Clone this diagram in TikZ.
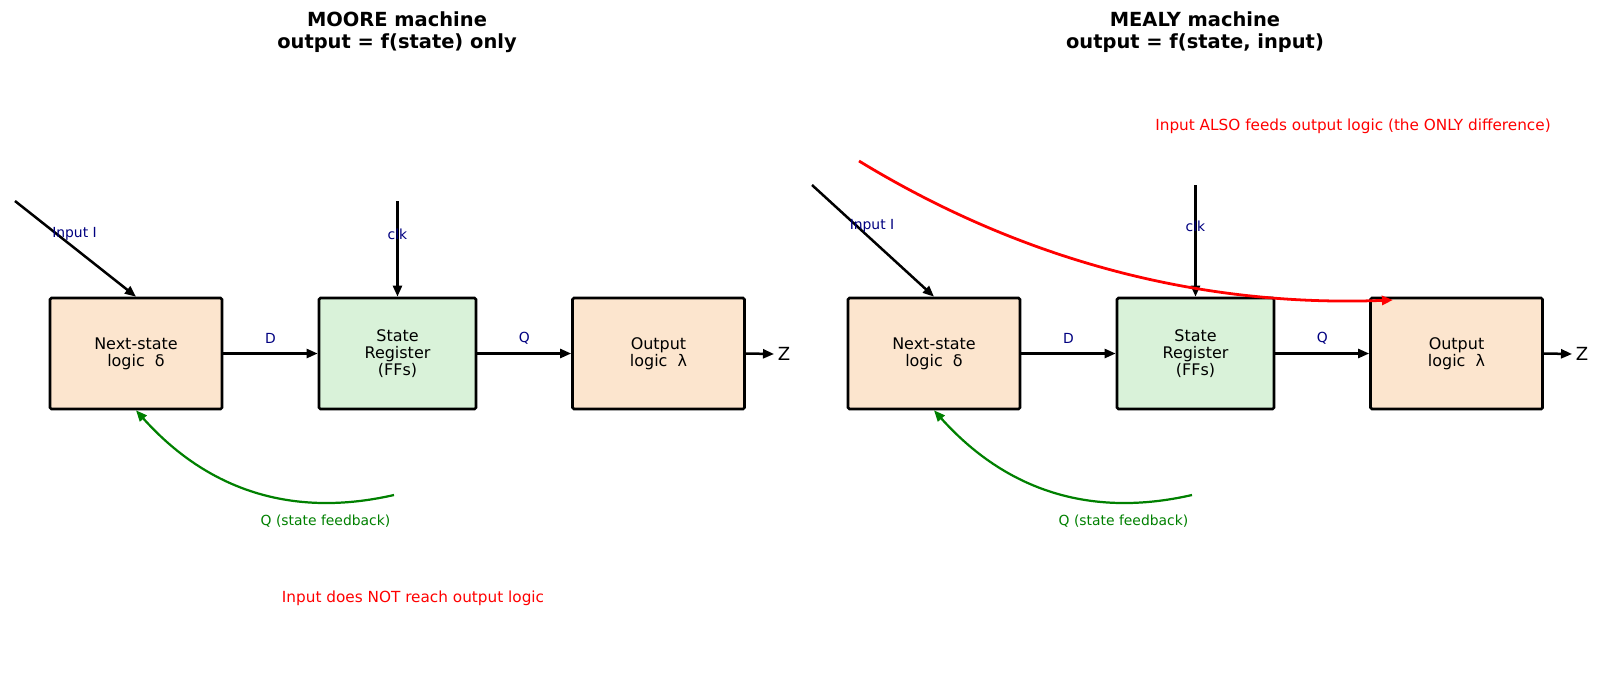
\documentclass[tikz,border=0pt]{standalone}
\usepackage{fontspec}
\setmainfont{DejaVu Sans}
\usetikzlibrary{arrows.meta,calc}
\definecolor{peach}{RGB}{252,229,206}
\definecolor{mint}{RGB}{217,242,217}
\definecolor{lblblue}{RGB}{0,0,128}
\definecolor{fbgreen}{RGB}{0,128,0}
\definecolor{hired}{RGB}{255,0,0}
\begin{document}
\begin{tikzpicture}[x=0.72pt,y=-0.72pt,
  box/.style={draw=black,line width=1.9pt,rounded corners=1pt,minimum height=79.92pt,
    align=center,inner sep=0pt,font=\fontsize{11.5}{12.4}\selectfont},
  nsbox/.style={box,fill=peach,minimum width=123.84pt},
  regbox/.style={box,fill=mint,minimum width=113.04pt},
  outbox/.style={box,fill=peach,minimum width=123.84pt},
  conn/.style={line width=1.8pt,draw=black,-{Triangle[length=8pt,width=6.5pt]}},
  fb/.style={line width=1.6pt,draw=fbgreen,-{Triangle[length=8pt,width=6.5pt]}},
  redc/.style={line width=2pt,draw=hired,-{Triangle[length=8pt,width=6.5pt]}},
  lbl/.style={text=lblblue,font=\fontsize{10}{12}\selectfont,inner sep=1pt},
  fblbl/.style={text=fbgreen,font=\fontsize{10}{12}\selectfont},
  note/.style={text=hired,font=\fontsize{11}{13}\selectfont},
  title/.style={font=\bfseries\fontsize{14}{15.5}\selectfont,align=center},
  zlbl/.style={font=\fontsize{13}{15}\selectfont,inner sep=2.5pt},
]
\path[use as bounding box] (0,0) rectangle (1600,693);

% ---------------- MOORE ----------------
\node[title] (tL) at (397,32) {MOORE machine\\output = f(state) only};
\node[nsbox]  (nsL)  at (136,353.5)   {Next-state\\logic\ \ δ};
\node[regbox] (stL)  at (397.5,353.5) {State\\Register\\(FFs)};
\node[outbox] (outL) at (658.5,353.5) {Output\\logic\ \ λ};
\node[zlbl]   (zL)   at (784,354)     {Z};

\coordinate (inL) at (15,201);
\coordinate (clkL) at (397.5,201);
\coordinate (gL) at (394,495);

\draw[conn] (inL) -- (nsL.north);
\node[lbl] (inlblL) at (74.5,234) {Input I};
\draw[conn] (clkL) -- (stL.north);
\node[lbl] (clklblL) at (397.5,234) {clk};
\draw[conn] (nsL.east) -- node[lbl,midway,yshift=10.8pt] (dL) {D} (stL.west);
\draw[conn] (stL.east) -- node[lbl,midway,yshift=10.8pt] (qL) {Q} (outL.west);
\draw[conn] (outL.east) -- (zL.west);
\draw[fb] (gL) .. controls (292,518.3) and (207.7,490.3) .. (nsL.south);
\node[fblbl] (fbL) at (325.5,521.5) {Q (state feedback)};
\node[note] (noteL) at (413,598) {Input does NOT reach output logic};

% ---------------- MEALY ----------------
\node[title] (tR) at (1195,32) {MEALY machine\\output = f(state, input)};
\node[nsbox]  (nsR)  at (934,353.5)    {Next-state\\logic\ \ δ};
\node[regbox] (stR)  at (1195.5,353.5) {State\\Register\\(FFs)};
\node[outbox] (outR) at (1456.5,353.5) {Output\\logic\ \ λ};
\node[zlbl]   (zR)   at (1582,354)     {Z};

\coordinate (inR) at (812,185);
\coordinate (clkR) at (1195.5,185);
\coordinate (gR) at (1192,495);
\coordinate (redS) at (859,161);
\coordinate (redE) at (1393,300);

\draw[conn] (inR) -- (nsR.north);
\node[lbl] (inlblR) at (872,226) {Input I};
\draw[conn] (clkR) -- (stR.north);
\node[lbl] (clklblR) at (1195.5,226) {clk};
\draw[conn] (nsR.east) -- node[lbl,midway,yshift=10.8pt] (dR) {D} (stR.west);
\draw[conn] (stR.east) -- node[lbl,midway,yshift=10.8pt] (qR) {Q} (outR.west);
\draw[conn] (outR.east) -- (zR.west);
\draw[fb] (gR) .. controls (1090,518.3) and (1005.7,490.3) .. (nsR.south);
\node[fblbl] (fbR) at (1123.5,521.5) {Q (state feedback)};
\draw[redc] (redS) .. controls (1023,261) and (1201,307.3) .. (redE);
\node[note] (noteR) at (1353,126) {Input ALSO feeds output logic (the ONLY difference)};
\end{tikzpicture}
\end{document}
